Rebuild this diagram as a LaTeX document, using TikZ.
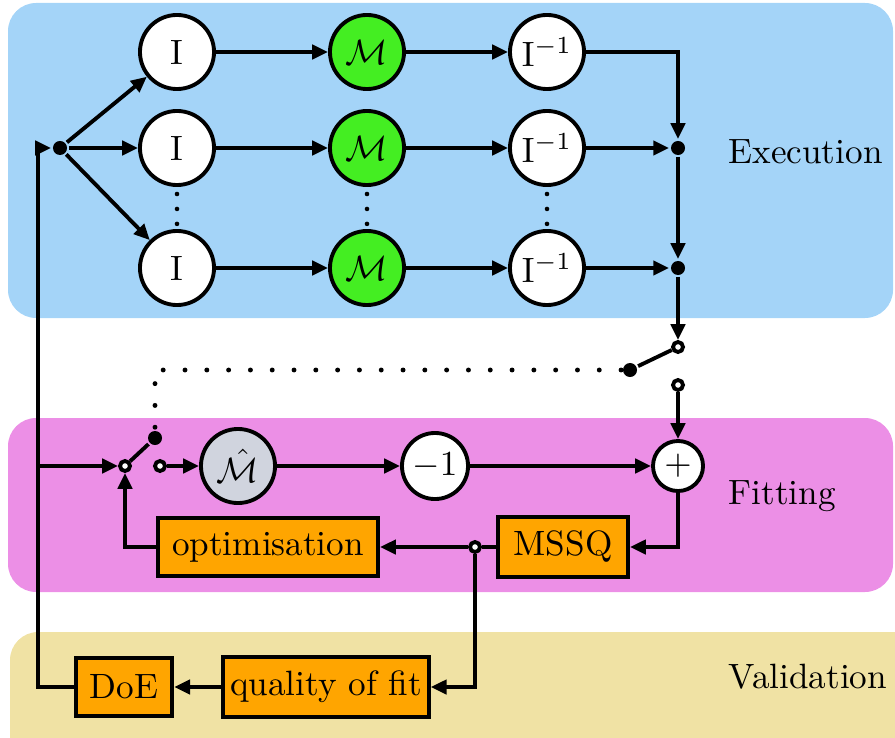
\documentclass[tikz,border=0pt]{standalone}
\usepackage{amsmath}
\usetikzlibrary{arrows.meta}
\definecolor{execblue}{HTML}{A4D4F8}
\definecolor{fitpink}{HTML}{EC8FE6}
\definecolor{valsand}{HTML}{F0E2A4}
\definecolor{blkorange}{HTML}{FFA500}
\definecolor{modelgreen}{HTML}{44EE22}
\definecolor{hatgrey}{HTML}{D0D4DE}
\tikzset{op/.style = {circle, draw, fill=white, minimum size=0.74cm, inner sep=0pt}}
\tikzset{model/.style = {op, fill=modelgreen}}
\tikzset{blk/.style = {draw, fill=blkorange, minimum height=0.58cm, inner sep=4pt}}
\tikzset{dot/.style = {circle, fill, inner sep=0pt, minimum size=0.14cm}}
\tikzset{port/.style = {circle, draw, fill=white, inner sep=0pt, minimum size=0.1cm}}
\tikzset{dotline/.style = {line width=1.4pt, line cap=round, dash pattern=on 0pt off 6.2pt}}
\tikzset{vdotline/.style = {line width=1.3pt, line cap=round, dash pattern=on 0pt off 4.25pt}}
\tikzset{region/.style = {anchor=west}}

\begin{document}
\begin{tikzpicture}[x=0.01cm, y=-0.01cm, line width=1.1pt, >={Triangle[length=4.5pt,width=4pt]}]
\useasboundingbox (0,0) rectangle (895,737);
\fill [execblue, rounded corners=8pt] (8,3) rectangle (893,318);
\fill [fitpink, rounded corners=8pt] (8,418) rectangle (893,592);
\fill [valsand, rounded corners=8pt] (10,632) rectangle (930,770);
\node [region] (exe) at (715,152) {Execution};
\node [region] (fit) at (715,496) {Fitting};
\node [region] (val) at (715,677) {Validation};
\node [dot] (split) at (60,148) {};
\node [op] (i1) at (177,52) {I};
\node [op] (i2) at (177,148) {I};
\node [op] (i3) at (177,268) {I};
\node [model] (m1) at (367,52) {$\mathcal{M}$};
\node [model] (m2) at (367,148) {$\mathcal{M}$};
\node [model] (m3) at (367,268) {$\mathcal{M}$};
\node [op] (j1) at (547,52) {$\mathrm{I}^{-1}$};
\node [op] (j2) at (547,148) {$\mathrm{I}^{-1}$};
\node [op] (j3) at (547,268) {$\mathrm{I}^{-1}$};
\draw [vdotline] (177,194) -- (177,225);
\draw [vdotline] (367,194) -- (367,225);
\draw [vdotline] (547,194) -- (547,225);
\node [dot] (s2) at (678,148) {};
\node [dot] (s3) at (678,268) {};
\draw [->] (split) -- (i1);
\draw [->] (split) -- (i2);
\draw [->] (split) -- (i3);
\draw [->] (i1) -- (m1);
\draw [->] (i2) -- (m2);
\draw [->] (i3) -- (m3);
\draw [->] (m1) -- (j1);
\draw [->] (m2) -- (j2);
\draw [->] (m3) -- (j3);
\draw [->] (j1) -| (s2);
\draw [->] (j2) -- (s2);
\draw [->] (s2) -- (s3);
\draw [->] (j3) -- (s3);
\node [port] (sw1) at (678,347) {};
\node [dot] (sw1b) at (630,370) {};
\node [port] (sw1c) at (678,385) {};
\node [port] (sw2) at (125,466) {};
\node [dot] (sw2b) at (155,438) {};
\node [port] (sw2c) at (160,466) {};
\draw [->] (s3) -- (sw1);
\draw (sw1) -- (sw1b);
\draw (sw2) -- (sw2b);
\draw [dotline] (sw1b) -| (sw2b);
\node [op, fill=hatgrey] (mh) at (238,466) {$\hat{\mathcal{M}}$};
\node [op, minimum size=0.66cm] (neg) at (435,466) {$-1$};
\node [op, minimum size=0.5cm] (sum) at (678,466) {$+$};
\draw [->] (sw2c) -- (mh);
\draw [->] (mh) -- (neg);
\draw [->] (neg) -- (sum);
\draw [->] (sw1c) -- (sum);
\node [blk, minimum width=1.3cm] (mssq) at (563,547) {MSSQ};
\node [blk, minimum width=2.2cm] (opt) at (268,547) {optimisation};
\node [port] (tap) at (475,547) {};
\draw [->] (sum) |- (mssq);
\draw (mssq) -- (tap);
\draw [->] (tap) -- (opt);
\draw [->] (opt) -| (sw2);
\node [blk, inner xsep=2pt] (qof) at (326,687) {quality of fit};
\node [blk, minimum width=0.92cm] (doe) at (124,687) {DoE};
\coordinate (feed) at (38,466);
\draw [->] (tap) |- (qof);
\draw [->] (qof) -- (doe);
\draw [->] (doe) -- (doe -| feed) |- (split);
\draw [->] (feed) -- (sw2);
\end{tikzpicture}
\end{document}
